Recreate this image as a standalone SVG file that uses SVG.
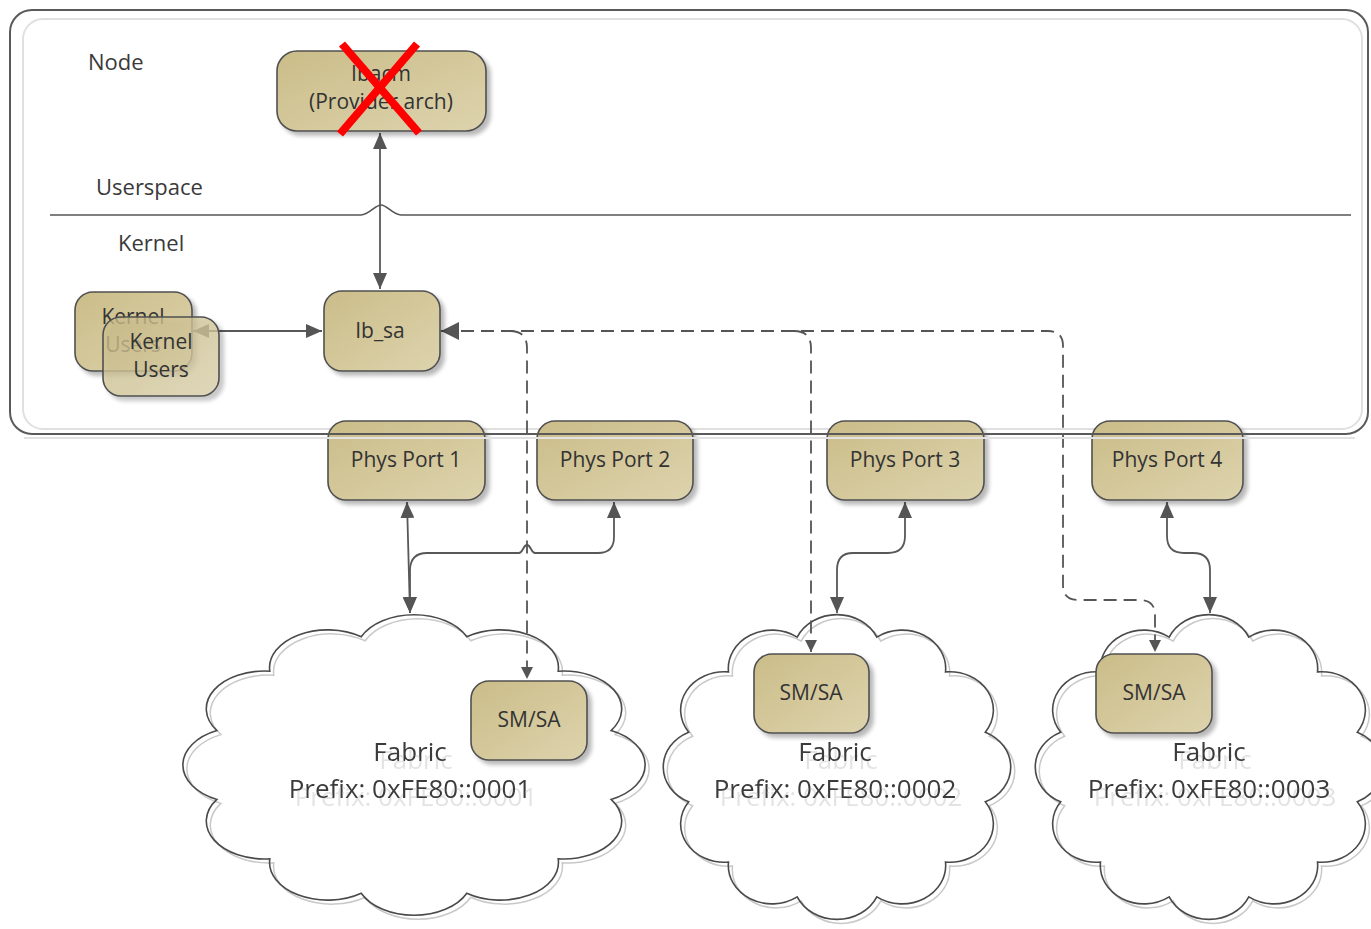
<svg xmlns="http://www.w3.org/2000/svg" xmlns:xlink="http://www.w3.org/1999/xlink" width="1371" height="929" viewBox="0 0 1371 929">
  <style>
    .lbl { font-family: "Open Sans", "Liberation Sans", sans-serif; font-size: 22px; fill: #3a3a3a; }
    .ntxt { font-family: "Open Sans", "Liberation Sans", sans-serif; font-size: 21px; fill: #333; text-anchor: middle; }
    .ftxt { font-family: "Open Sans", "Liberation Sans", sans-serif; font-size: 26px; fill: #3a3a3a; text-anchor: middle; filter: url(#textghost); }
    .box { fill: url(#beige); stroke: #505050; stroke-width: 1.6; filter: url(#shadow); }
    .conn { fill: none; stroke: #585858; stroke-width: 1.8; }
    .dash { fill: none; stroke: #555; stroke-width: 1.8; stroke-dasharray: 13 7; }
    .cloudfill { fill: #fff; stroke: none; }
    .cloudshade { fill: none; stroke: #c9c9c9; stroke-width: 1.5; }
    .cloudline { fill: none; stroke: #4a4a4a; stroke-width: 1.6; }
  </style>
  <defs>
    <linearGradient id="beige" x1="0" y1="0" x2="1" y2="1">
      <stop offset="0" stop-color="#cbbd89"/>
      <stop offset="1" stop-color="#ddd3ad"/>
    </linearGradient>
    <filter id="shadow" x="-10%" y="-10%" width="130%" height="130%">
      <feGaussianBlur in="SourceAlpha" stdDeviation="2"/>
      <feOffset dx="4" dy="4"/>
      <feComponentTransfer><feFuncA type="linear" slope="0.28"/></feComponentTransfer>
      <feMerge><feMergeNode/><feMergeNode in="SourceGraphic"/></feMerge>
    </filter>
    <!-- pale offset echo behind the fabric captions -->
    <filter id="textghost" x="-10%" y="-30%" width="130%" height="180%">
      <feOffset in="SourceAlpha" dx="6" dy="8" result="off"/>
      <feFlood flood-color="#e3e3e3"/>
      <feComposite in2="off" operator="in"/>
      <feMerge><feMergeNode/><feMergeNode in="SourceGraphic"/></feMerge>
    </filter>
    <marker id="arr" viewBox="0 0 16 14" refX="16" refY="7" markerWidth="16" markerHeight="14" markerUnits="userSpaceOnUse" orient="auto-start-reverse">
      <path d="M0 0 L16 7 L0 14 Z" fill="#555"/>
    </marker>
    <marker id="arrL" viewBox="0 0 18 18" refX="18" refY="9" markerWidth="18" markerHeight="18" markerUnits="userSpaceOnUse" orient="auto-start-reverse">
      <path d="M0 0 L18 9 L0 18 Z" fill="#555"/>
    </marker>
    <marker id="arrS" viewBox="0 0 12 12" refX="12" refY="6" markerWidth="12" markerHeight="12" markerUnits="userSpaceOnUse" orient="auto-start-reverse">
      <path d="M0 0 L12 6 L0 12 Z" fill="#555"/>
    </marker>
    <!-- cloud outlines: scalloped ellipses -->
    <path id="cloud1" d="M611.1 799.4 A58.1 37.8 0 0 1 558.2 858.8 A58.1 37.8 0 0 1 466.8 893.2 A58.1 37.8 0 0 1 361.2 893.2 A58.1 37.8 0 0 1 269.8 858.8 A58.1 37.8 0 0 1 216.9 799.4 A58.1 37.8 0 0 1 216.9 730.6 A58.1 37.8 0 0 1 269.8 671.2 A58.1 37.8 0 0 1 361.2 636.8 A58.1 37.8 0 0 1 466.8 636.8 A58.1 37.8 0 0 1 558.2 671.2 A58.1 37.8 0 0 1 611.1 730.6 A58.1 37.8 0 0 1 611.1 799.4 Z"/>
    <path id="cloud2" d="M985.3 801.8 A43.7 38.3 0 0 1 945.5 862.1 A43.7 38.3 0 0 1 876.8 896.9 A43.7 38.3 0 0 1 797.2 896.9 A43.7 38.3 0 0 1 728.5 862.1 A43.7 38.3 0 0 1 688.7 801.8 A43.7 38.3 0 0 1 688.7 732.2 A43.7 38.3 0 0 1 728.5 671.9 A43.7 38.3 0 0 1 797.2 637.1 A43.7 38.3 0 0 1 876.8 637.1 A43.7 38.3 0 0 1 945.5 671.9 A43.7 38.3 0 0 1 985.3 732.2 A43.7 38.3 0 0 1 985.3 801.8 Z"/>
    <path id="cloud3" d="M1357.3 801.8 A43.7 38.3 0 0 1 1317.5 862.1 A43.7 38.3 0 0 1 1248.8 896.9 A43.7 38.3 0 0 1 1169.2 896.9 A43.7 38.3 0 0 1 1100.5 862.1 A43.7 38.3 0 0 1 1060.7 801.8 A43.7 38.3 0 0 1 1060.7 732.2 A43.7 38.3 0 0 1 1100.5 671.9 A43.7 38.3 0 0 1 1169.2 637.1 A43.7 38.3 0 0 1 1248.8 637.1 A43.7 38.3 0 0 1 1317.5 671.9 A43.7 38.3 0 0 1 1357.3 732.2 A43.7 38.3 0 0 1 1357.3 801.8 Z"/>
  </defs>

  <rect width="1371" height="929" fill="#fff"/>

  <!-- host node container -->
  <g id="node-container">
    <rect x="10" y="10" width="1358" height="424" rx="22" fill="#fff"/>
    <rect x="23" y="19" width="1339" height="410" rx="20" fill="none" stroke="#e0e0e0" stroke-width="2"/>
    <text class="lbl" x="88" y="70">Node</text>
    <text class="lbl" x="96" y="195">Userspace</text>
    <text class="lbl" x="118" y="251">Kernel</text>
    <path d="M50 215 H361 C369 215 375 205 381 205 C387 205 393 215 401 215 H1351" fill="none" stroke="#555" stroke-width="1.6"/>
  </g>

  <!-- fabrics -->
  <g id="fabric1">
    <use xlink:href="#cloud1" class="cloudfill"/>
    <use xlink:href="#cloud1" class="cloudshade" transform="translate(4 4)"/>
    <use xlink:href="#cloud1" class="cloudline"/>
    <text class="ftxt" x="410" y="761">Fabric</text>
    <text class="ftxt" x="410" y="798">Prefix: 0xFE80::0001</text>
  </g>
  <g id="fabric2">
    <use xlink:href="#cloud2" class="cloudfill"/>
    <use xlink:href="#cloud2" class="cloudshade" transform="translate(4 4)"/>
    <use xlink:href="#cloud2" class="cloudline"/>
    <text class="ftxt" x="835" y="761">Fabric</text>
    <text class="ftxt" x="835" y="798">Prefix: 0xFE80::0002</text>
  </g>
  <g id="fabric3">
    <use xlink:href="#cloud3" class="cloudfill"/>
    <use xlink:href="#cloud3" class="cloudshade" transform="translate(4 4)"/>
    <use xlink:href="#cloud3" class="cloudline"/>
    <text class="ftxt" x="1209" y="761">Fabric</text>
    <text class="ftxt" x="1209" y="798">Prefix: 0xFE80::0003</text>
  </g>

  <g id="kernel-users-back">
    <rect class="box" x="75" y="292" width="117" height="79" rx="18"/>
    <text class="ntxt" x="133" y="324">Kernel</text>
    <text class="ntxt" x="133" y="352">Users</text>
  </g>

  <!-- connectors -->
  <g id="connectors">
    <path class="conn" d="M380 289 V133" marker-start="url(#arr)" marker-end="url(#arr)"/>
    <path class="conn" d="M193 331 H322" marker-start="url(#arr)" marker-end="url(#arr)"/>
    <path class="conn" d="M407 502 L410 613" marker-start="url(#arr)" marker-end="url(#arr)"/>
    <path class="conn" d="M614 502 V537 Q614 553 598 553 H535 C531 553 531 545 527 545 C523 545 523 553 519 553 H427 Q411 553 410 569 V613" marker-start="url(#arr)" marker-end="url(#arr)"/>
    <path class="conn" d="M905 502 V536 Q905 553 888 553 H853 Q837 553 837 570 V613" marker-start="url(#arr)" marker-end="url(#arr)"/>
    <path class="conn" d="M1167 502 V536 Q1167 553 1184 553 H1193 Q1210 553 1210 570 V613" marker-start="url(#arr)" marker-end="url(#arr)"/>
    <path class="dash" d="M441 331 H1048 Q1063 331 1063 346 V585 Q1063 600 1078 600 H1140 Q1155 600 1155 615 V652" marker-start="url(#arrL)" marker-end="url(#arrS)"/>
    <path class="dash" d="M510 331 Q527 331 527 348 V679" marker-end="url(#arrS)"/>
    <path class="dash" d="M794 331 Q811 331 811 348 V652" marker-end="url(#arrS)"/>
  </g>

  <g id="kernel-users-front">
    <rect class="box" x="103" y="317" width="116" height="79" rx="18" fill-opacity="0.75"/>
    <text class="ntxt" x="161" y="349">Kernel</text>
    <text class="ntxt" x="161" y="377">Users</text>
  </g>

  <g id="ibacm">
    <rect class="box" x="277" y="51" width="209" height="80" rx="20"/>
    <text class="ntxt" x="381" y="81">Ibacm</text>
    <text class="ntxt" x="381" y="109">(Provider arch)</text>
  </g>

  <g id="ib_sa">
    <rect class="box" x="324" y="291" width="116" height="80" rx="18"/>
    <text class="ntxt" x="380" y="338">Ib_sa</text>
  </g>

  <g id="phys-port-1">
    <rect class="box" x="328" y="421" width="157" height="79" rx="18"/>
    <text class="ntxt" x="406" y="467">Phys Port 1</text>
  </g>
  <g id="phys-port-2">
    <rect class="box" x="537" y="421" width="156" height="79" rx="18"/>
    <text class="ntxt" x="615" y="467">Phys Port 2</text>
  </g>
  <g id="phys-port-3">
    <rect class="box" x="827" y="421" width="157" height="79" rx="18"/>
    <text class="ntxt" x="905" y="467">Phys Port 3</text>
  </g>
  <g id="phys-port-4">
    <rect class="box" x="1092" y="421" width="151" height="79" rx="18"/>
    <text class="ntxt" x="1167" y="467">Phys Port 4</text>
  </g>

  <g id="sm-sa-1">
    <rect class="box" x="471" y="681" width="116" height="79" rx="18"/>
    <text class="ntxt" x="529" y="727">SM/SA</text>
  </g>
  <g id="sm-sa-2">
    <rect class="box" x="754" y="654" width="115" height="79" rx="18"/>
    <text class="ntxt" x="811" y="700">SM/SA</text>
  </g>
  <g id="sm-sa-3">
    <rect class="box" x="1096" y="654" width="116" height="79" rx="18"/>
    <text class="ntxt" x="1154" y="700">SM/SA</text>
  </g>

  <!-- container outline drawn over the port boxes -->
  <rect x="10" y="10" width="1358" height="424" rx="22" fill="none" stroke="#5a5a5a" stroke-width="2"/>
  <line x1="24" y1="438" x2="1355" y2="438" stroke="#e2e2e2" stroke-width="2"/>

  <!-- removed component mark -->
  <g id="removed-mark" stroke="#ff0000" stroke-width="8">
    <line x1="342" y1="44" x2="419" y2="133"/>
    <line x1="417" y1="44" x2="340" y2="134"/>
  </g>
</svg>
